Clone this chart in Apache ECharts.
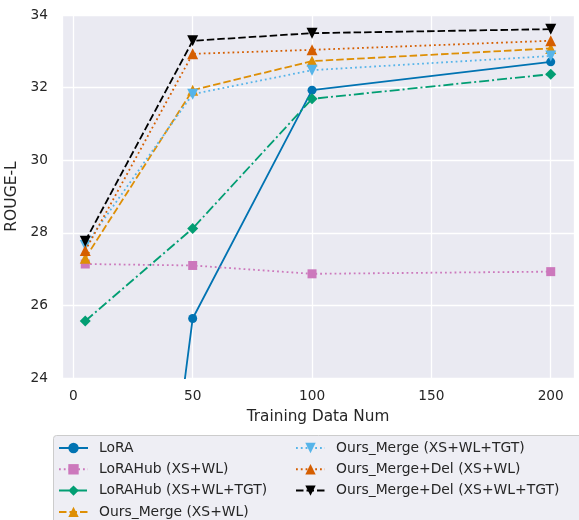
<!DOCTYPE html>
<html>
<head>
<meta charset="utf-8">
<script src="https://cdn.jsdelivr.net/npm/echarts@6/dist/echarts.min.js"></script>
<style>
  html, body { margin: 0; padding: 0; background: #fff; }
  #main { width: 579px; height: 520px; }
</style>
</head>
<body>
<div id="main"></div>
<script>
// training data sizes (x)
var trainNum = [5, 50, 100, 200];

// ROUGE-L values
var lora = [2.7, 25.64, 31.93, 32.71];
var lorahubXsWl = [27.14, 27.10, 26.87, 26.93];
var lorahubXsWlTgt = [25.57, 28.12, 31.69, 32.37];
var oursMergeXsWl = [27.30, 31.93, 32.73, 33.08];
var oursMergeXsWlTgt = [27.65, 31.82, 32.48, 32.87];
var oursDelXsWl = [27.51, 32.93, 33.04, 33.29];
var oursDelXsWlTgt = [27.77, 33.29, 33.50, 33.61];

var FONT = 'DejaVu Sans';
var downTri = 'path://M0,0L2,0L1,2Z';

function pairs(ys) {
    return trainNum.map(function (x, i) { return [x, ys[i]]; });
}

// name, values, colour, dash, symbol, symbol size
var defs = [
    ['LoRA', lora, '#0173B2', 'solid', 'circle', 9],
    ['LoRAHub (XS+WL)', lorahubXsWl, '#CC78BC', [1.8, 3], 'rect', 9],
    ['LoRAHub (XS+WL+TGT)', lorahubXsWlTgt, '#029E73', [10, 3, 2, 3], 'diamond', 11],
    ['Ours_Merge (XS+WL)', oursMergeXsWl, '#DE8F05', [7.5, 3], 'triangle', 11],
    ['Ours_Merge (XS+WL+TGT)', oursMergeXsWlTgt, '#56B4E9', [1.8, 3], downTri, 11],
    ['Ours_Merge+Del (XS+WL)', oursDelXsWl, '#D55E00', [1.8, 3], 'triangle', 11],
    ['Ours_Merge+Del (XS+WL+TGT)', oursDelXsWlTgt, '#000000', [7.5, 3], downTri, 11]
];

var series = defs.map(function (d, i) {
    return {
        name: d[0],
        type: 'line',
        data: pairs(d[1]),
        symbol: d[4],
        symbolSize: d[5],
        showAllSymbol: true,
        clip: true,
        z: 2 + i,
        lineStyle: { color: d[2], width: 1.8, type: d[3], cap: 'butt' },
        itemStyle: { color: d[2], borderWidth: 0 },
        emphasis: { disabled: true }
    };
});

var legendText = {
    fontFamily: FONT, fontSize: 13.9, lineHeight: 14,
    color: '#262626', padding: [0, 0, 0, 6]
};

function legendCol(names, left) {
    return {
        data: names,
        orient: 'vertical',
        left: left, top: 441,
        height: 120,
        padding: 0,
        itemWidth: 29, itemHeight: 13, itemGap: 7.3,
        textStyle: legendText,
        selectedMode: false
    };
}

var myChart = echarts.init(document.getElementById('main'), null, { renderer: 'canvas' });
myChart.setOption({
    animation: false,
    backgroundColor: '#ffffff',
    grid: {
        left: 62, top: 15, right: 5, bottom: 142,
        outerBoundsMode: 'none',
        containLabel: false,
        show: true, backgroundColor: '#EAEAF2', borderWidth: 0
    },
    xAxis: {
        type: 'value',
        min: -4.75,
        max: 209.75,
        splitNumber: 5,
        name: 'Training Data Num',
        nameLocation: 'middle',
        nameGap: 32,
        nameTextStyle: { fontFamily: FONT, fontSize: 15.3, color: '#262626' },
        axisLine: { show: false },
        axisTick: { show: false },
        axisLabel: {
            fontFamily: FONT, fontSize: 13.7, color: '#262626', margin: 11,
            showMinLabel: false, showMaxLabel: false
        },
        splitLine: { show: true, lineStyle: { color: '#ffffff', width: 1.3 } }
    },
    yAxis: {
        type: 'value',
        min: 24,
        max: 34,
        interval: 2,
        name: 'ROUGE-L',
        nameLocation: 'middle',
        nameGap: 35,
        nameTextStyle: { fontFamily: FONT, fontSize: 15.5, color: '#262626' },
        axisLine: { show: false },
        axisTick: { show: false },
        axisLabel: { fontFamily: FONT, fontSize: 13.7, color: '#262626', margin: 14 },
        splitLine: { show: true, lineStyle: { color: '#ffffff', width: 1.3 } }
    },
    graphic: [{
        type: 'rect',
        z: -1,
        shape: { x: 53.5, y: 435.5, width: 540, height: 100, r: 3 },
        style: { fill: '#EEEEF4', stroke: '#CCCCCC', lineWidth: 1 }
    }],
    legend: [
        legendCol(defs.slice(0, 4).map(function (d) { return d[0]; }), 58),
        legendCol(defs.slice(4).map(function (d) { return d[0]; }), 295)
    ],
    series: series
});
</script>
</body>
</html>
